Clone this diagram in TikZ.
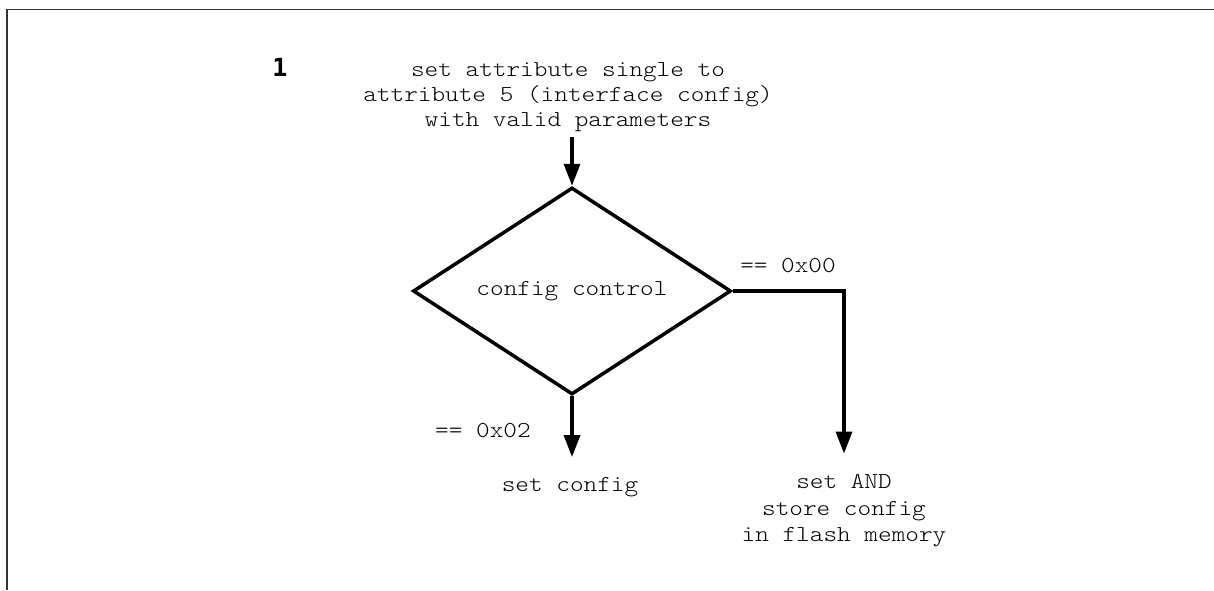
\documentclass[tikz,border=0pt]{standalone}
\usepackage{fontspec}
\newfontfamily\cour[FakeStretch=1.14]{lmmonolt10-regular.otf}
\newfontfamily\numfont[BoldFont={DejaVu Sans Mono Bold}]{DejaVu Sans Mono}
\usetikzlibrary{shapes.geometric,arrows.meta}
\tikzset{
  frameline/.style={draw=black!80, line width=1.5pt},
  flow/.style={line width=3.5pt, -{Triangle[length=22pt,width=16pt]}},
  txt/.style={font=\cour\fontsize{22.8}{25}\selectfont, inner sep=0pt, align=center},
  txtb/.style={font=\cour\fontsize{22.8}{26.5}\selectfont, inner sep=0pt, align=center},
  decision/.style={draw, line width=3.5pt, diamond, shape aspect=1.536, minimum width=318pt, minimum height=207pt, inner sep=0pt, font=\cour\fontsize{22.8}{25}\selectfont}
}
\begin{document}
\begin{tikzpicture}[x=1pt,y=-1pt]
\useasboundingbox (0,0) rectangle (1214,590);
\coordinate (fa) at (7,590);
\coordinate (fb) at (7,9.5);
\coordinate (fc) at (1214,9.5);
\draw[frameline] (fa) -- (fb) -- (fc);
\node[font=\numfont\bfseries\fontsize{25}{25}\selectfont, inner sep=0pt] (num) at (280,67) {1};
\node[txt] (start) at (568,97) {set attribute single to\\attribute 5 (interface config)\\with valid parameters};
\node[decision] (dec) at (572,291) {config control};
\node[txt] (setcfg) at (570,487) {set config};
\node[txtb] (store) at (844,511) {set AND\\store config\\in flash memory};
\node[txt] (l00) at (788,266) {== 0x00};
\node[txt] (l02) at (483,431) {== 0x02};
\draw[flow, shorten <=5pt] (dec.north |- start.south) -- (dec.north);
\draw[flow, shorten >=20pt] (dec.south) -- (dec.south |- setcfg.north);
\draw[flow, shorten >=21pt] (dec.east) -| (store.north);
\end{tikzpicture}
\end{document}
